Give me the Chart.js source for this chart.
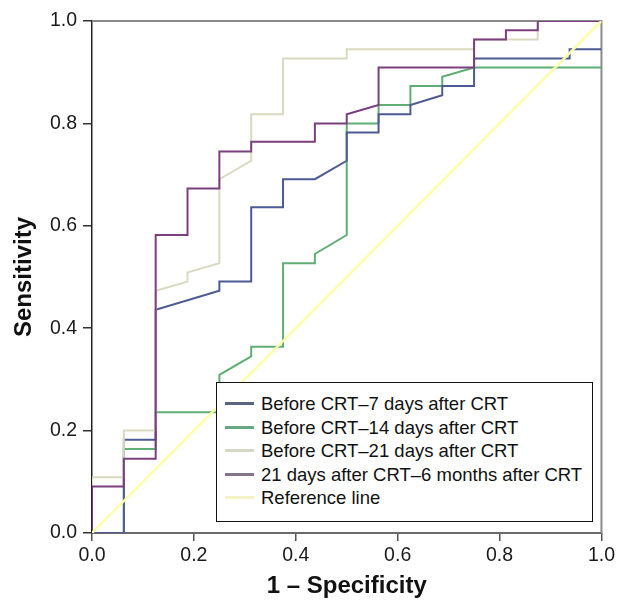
<!DOCTYPE html>
<html>
<head>
<meta charset="utf-8">
<script src="https://cdn.jsdelivr.net/npm/chart.js@4"></script>
<style>
  html, body { margin: 0; padding: 0; background: #fff; }
  #wrap { position: relative; width: 618px; height: 603px; }
  #legend {
    position: absolute; left: 216px; top: 382px; width: 375px; height: 138px;
    border: 1.5px solid #111; background: #fff;
    font-family: "Liberation Sans", Arial, sans-serif; font-size: 18.5px; color: #111;
  }
  .item { position: absolute; left: 0; height: 22px; line-height: 22px; white-space: nowrap; }
  .swatch { position: absolute; left: 8px; top: 9px; width: 29px; height: 3px; }
  .label { position: absolute; left: 44px; top: 0; }
</style>
</head>
<body>
<div id="wrap">
  <canvas id="c" width="618" height="603"></canvas>
  <div id="legend"></div>
</div>
<script>
// ---- Data ----
const seriesNames = [
  "Before CRT\u20137 days after CRT",
  "Before CRT\u201314 days after CRT",
  "Before CRT\u201321 days after CRT",
  "21 days after CRT\u20136 months after CRT",
  "Reference line"
];

const xTicks = [0.0, 0.2, 0.4, 0.6, 0.8, 1.0];
const yTicks = [0.0, 0.2, 0.4, 0.6, 0.8, 1.0];

const fpr7 = [0, 0.0625, 0.0625, 0.125, 0.125, 0.25, 0.25, 0.3125, 0.3125, 0.375, 0.375, 0.4375, 0.5, 0.5, 0.5625, 0.5625, 0.625, 0.625, 0.6875, 0.6875, 0.75, 0.75, 0.9375, 0.9375, 1];
const tpr7 = [0, 0, 0.182, 0.182, 0.436, 0.473, 0.491, 0.491, 0.636, 0.636, 0.691, 0.691, 0.727, 0.782, 0.782, 0.818, 0.818, 0.836, 0.855, 0.873, 0.873, 0.927, 0.927, 0.945, 0.945];

const fpr14 = [0, 0.0625, 0.0625, 0.125, 0.125, 0.25, 0.25, 0.3125, 0.3125, 0.375, 0.375, 0.4375, 0.4375, 0.5, 0.5, 0.5625, 0.5625, 0.625, 0.625, 0.6875, 0.6875, 0.75, 1];
const tpr14 = [0, 0, 0.164, 0.164, 0.236, 0.236, 0.309, 0.345, 0.364, 0.364, 0.527, 0.527, 0.545, 0.582, 0.8, 0.8, 0.836, 0.836, 0.873, 0.873, 0.891, 0.909, 0.909];

const fpr21 = [0, 0, 0.0625, 0.0625, 0.125, 0.125, 0.1875, 0.1875, 0.25, 0.25, 0.3125, 0.3125, 0.375, 0.375, 0.5, 0.5, 0.75, 0.75, 0.875, 0.875, 1];
const tpr21 = [0, 0.109, 0.109, 0.2, 0.2, 0.473, 0.491, 0.509, 0.527, 0.691, 0.727, 0.818, 0.818, 0.927, 0.927, 0.945, 0.945, 0.964, 0.964, 1, 1];

const fpr6m = [0, 0, 0.0625, 0.0625, 0.125, 0.125, 0.1875, 0.1875, 0.25, 0.25, 0.3125, 0.3125, 0.4375, 0.4375, 0.5, 0.5, 0.5625, 0.5625, 0.75, 0.75, 0.8125, 0.8125, 0.875, 0.875, 1];
const tpr6m = [0, 0.091, 0.091, 0.145, 0.145, 0.582, 0.582, 0.673, 0.673, 0.745, 0.745, 0.764, 0.764, 0.8, 0.8, 0.818, 0.836, 0.909, 0.909, 0.964, 0.964, 0.982, 0.982, 1, 1];

const refX = [0, 1];
const refY = [0, 1];

// ---- Styles ----
const colors = ["#4d5a94", "#5fae74", "#d9d9c0", "#7b3f7f", "#ffffa8"];
const legendColors = ["#5b6480", "#67a884", "#d6d6c4", "#83768a", "#f3f3c6"];
const widths = [2, 2, 2, 2, 2.5];

function pts(xs, ys) { return xs.map((x, i) => ({ x: x, y: ys[i] })); }
const seriesData = [pts(fpr7, tpr7), pts(fpr14, tpr14), pts(fpr21, tpr21), pts(fpr6m, tpr6m), pts(refX, refY)];
const drawOrder = [3, 4, 2, 1, 0];

const datasets = seriesData.map((d, i) => ({
  label: seriesNames[i],
  data: d,
  borderColor: colors[i],
  backgroundColor: colors[i],
  borderWidth: widths[i],
  pointRadius: 0,
  pointHoverRadius: 0,
  tension: 0,
  fill: false,
  order: drawOrder[i]
}));

const frame = {
  id: 'frame',
  beforeDatasetsDraw(chart) {
    const { ctx, chartArea: a } = chart;
    ctx.save();
    ctx.strokeStyle = '#8a8a8a';
    ctx.lineWidth = 2;
    ctx.beginPath();
    ctx.moveTo(a.left, a.top);
    ctx.lineTo(a.right, a.top);
    ctx.lineTo(a.right, a.bottom);
    ctx.stroke();
    ctx.restore();
  }
};

const FONT = "'Liberation Sans', Arial, sans-serif";

new Chart(document.getElementById('c'), {
  type: 'line',
  data: { datasets },
  plugins: [frame],
  options: {
    responsive: false,
    animation: false,
    events: [],
    layout: { padding: { left: 0, top: 21, right: 16, bottom: 0 } },
    plugins: { legend: { display: false }, tooltip: { enabled: false } },
    scales: {
      x: {
        type: 'linear', min: 0, max: 1,
        afterFit(s) { s.height = 70; },
        afterBuildTicks(s) { s.ticks = xTicks.map(v => ({ value: v })); },
        ticks: { callback: v => Number(v).toFixed(1), font: { family: FONT, size: 19.5 }, color: '#1a1a1a', padding: 3, maxRotation: 0 },
        grid: { drawOnChartArea: false, drawTicks: true, tickLength: 8, color: '#555', lineWidth: 1.5 },
        border: { color: '#6a6a6a', width: 2 },
        title: { display: true, text: '1 \u2013 Specificity', font: { family: FONT, size: 24, weight: 'bold' }, color: '#111', padding: { top: 0, bottom: 2 } }
      },
      y: {
        type: 'linear', min: 0, max: 1,
        afterFit(s) { s.width = 92; },
        afterBuildTicks(s) { s.ticks = yTicks.map(v => ({ value: v })); },
        ticks: { callback: v => Number(v).toFixed(1), font: { family: FONT, size: 19.5 }, color: '#1a1a1a', padding: 6 },
        grid: { drawOnChartArea: false, drawTicks: true, tickLength: 9, color: '#333', lineWidth: 1.5 },
        border: { color: '#222', width: 1.5 },
        title: { display: true, text: 'Sensitivity', font: { family: FONT, size: 24, weight: 'bold' }, color: '#111', padding: { top: 10, bottom: 0 } }
      }
    }
  }
});

// HTML legend built from the same names/colours
const leg = document.getElementById('legend');
seriesNames.forEach((name, i) => {
  const row = document.createElement('div');
  row.className = 'item';
  row.style.top = (10 + i * 23.5) + 'px';
  row.style.width = '100%';
  const sw = document.createElement('div');
  sw.className = 'swatch';
  sw.style.background = legendColors[i];
  const lb = document.createElement('span');
  lb.className = 'label';
  lb.textContent = name;
  row.appendChild(sw);
  row.appendChild(lb);
  leg.appendChild(row);
});
</script>
</body>
</html>
